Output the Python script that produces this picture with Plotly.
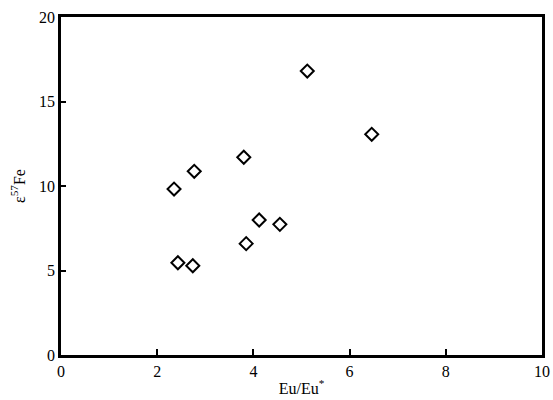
import plotly.graph_objects as go

eu_ratio = [2.35, 2.77, 3.80, 4.12, 4.55, 3.85, 2.43, 2.74, 5.12, 6.46]
e57fe = [9.82, 10.87, 11.7, 7.99, 7.73, 6.59, 5.46, 5.28, 16.8, 13.06]

x_ticks = [0, 2, 4, 6, 8, 10]
y_ticks = [0, 5, 10, 15, 20]

fig = go.Figure()
fig.add_trace(go.Scatter(
    x=eu_ratio, y=e57fe, mode="markers",
    marker=dict(symbol="diamond-open", size=10, color="black",
                line=dict(color="black", width=2)),
    showlegend=False,
))

serif = "Times New Roman, Liberation Serif, serif"
font = dict(family=serif, size=16, color="black")
fig.update_layout(
    width=553, height=400,
    margin=dict(l=61, r=11, t=17, b=45),
    paper_bgcolor="white", plot_bgcolor="white",
    font=font,
    xaxis=dict(range=[0, 10], tickvals=x_ticks, ticks="inside", ticklen=6,
               tickwidth=1.5, tickcolor="black", tickfont=font,
               showline=True, linecolor="black", linewidth=2.5, mirror=True,
               showgrid=False, zeroline=False, automargin=False,
               title=dict(text="Eu/Eu<sup>*</sup>", font=font, standoff=4)),
    yaxis=dict(range=[0, 20], tickvals=y_ticks, ticks="inside", ticklen=5,
               tickwidth=1.5, tickcolor="black", tickfont=font,
               showline=True, linecolor="black", linewidth=2.5, mirror=True,
               showgrid=False, zeroline=False, automargin=False,
               title=dict(text="ε<sup>57</sup>Fe", font=font, standoff=10)),
)
fig.write_html("out.html", config={"displayModeBar": False},
               post_script="document.body.style.margin='0';document.body.style.overflow='hidden';")
